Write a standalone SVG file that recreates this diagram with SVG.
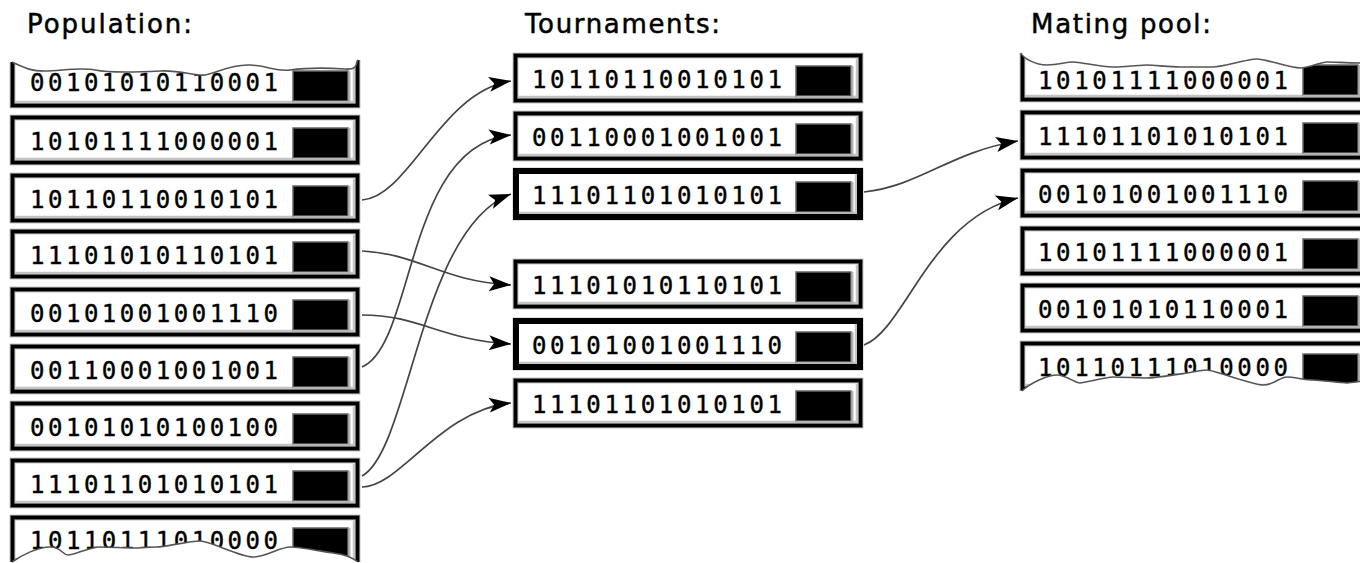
<svg xmlns="http://www.w3.org/2000/svg" xmlns:xlink="http://www.w3.org/1999/xlink" width="1360" height="563" viewBox="0 0 1360 563">
  <style>
    .title { font-family: "DejaVu Sans", "Liberation Sans", sans-serif; font-size: 26px; fill: #000; stroke: #000; stroke-width: 0.5; }
    .bits { font-family: "DejaVu Sans Mono", "Liberation Mono", monospace; font-size: 24px; fill: #000; stroke: #000; stroke-width: 0.4; }
    .halo { fill: #fff; stroke: #8c8c8c; stroke-width: 5.5; }
    .edge { fill: none; stroke: #000; stroke-width: 3.5; }
    .edge-win { fill: none; stroke: #000; stroke-width: 6; }
    .bevel { fill: none; stroke: #c4c4c4; stroke-width: 2.5; }
    .swatch { fill: #000; stroke: #666; stroke-width: 1.5; }
    .swatch-lit { fill: none; stroke: #b4b4b4; stroke-width: 2; }
    .tear { fill: none; stroke: #555; stroke-width: 1.6; }
    .link { fill: none; stroke: #444; stroke-width: 1.7; marker-end: url(#head); }
  </style>
  <defs>
    <marker id="head" markerUnits="userSpaceOnUse" markerWidth="26" markerHeight="18" refX="22" refY="8" orient="auto">
      <path d="M0,0.5 L22,8 L0,15.5 L5,8 Z" fill="#000"/>
    </marker>
    <!-- individual frame: plain chromosome box -->
    <g id="frame">
      <rect class="halo" x="2.5" y="2.5" width="345" height="45"/>
      <path class="bevel" d="M5,44 H344 V6"/>
      <rect class="edge" x="2.5" y="2.5" width="345" height="45"/>
      <rect class="swatch" x="283" y="13" width="55" height="30"/>
      <path class="swatch-lit" d="M283,44 H339.5 V13"/>
    </g>
    <!-- tournament winner: heavier outline -->
    <g id="frame-win">
      <rect class="halo" x="2.5" y="2.5" width="345" height="47"/>
      <path class="bevel" d="M6,45 H343 V6"/>
      <rect class="edge-win" x="3" y="3" width="344" height="46"/>
      <rect class="swatch" x="283" y="14" width="55" height="30"/>
      <path class="swatch-lit" d="M283,45 H339.5 V14"/>
    </g>
    <!-- torn edges for the first and last visible list entries -->
    <clipPath id="tear-pop-top">
      <path d="M-5,60 L-5,4 L2,4 C15,10 20,13 35,13 S70,9 85,12 S130,14 150,13 S185,18 195,17 S220,6 240,7 S265,14 280,12 S320,10 335,11 S345,4 348,2 L356,2 L356,60 Z"/>
    </clipPath>
    <clipPath id="tear-pop-bottom">
      <path d="M-5,-5 L-5,47 L2,47 C12,40 28,32 40,32 S52,40 58,40 S80,32 90,32 S115,33 123,33 S140,32 147,32 S180,26 190,26 S230,42 243,42 S270,32 280,32 S315,37 323,38 S342,42 348,47 L356,47 L356,-5 Z"/>
    </clipPath>
    <clipPath id="tear-pool-top">
      <path d="M-5,60 L-5,1 L1,1 C3,6 15,13 27,13 S45,10 53,10 S80,15 93,15 S120,13 127,13 S150,15 160,15 S185,15 193,15 S228,7 237,7 S270,16 280,16 S300,10 307,10 S330,11 345,11 L360,11 L360,60 Z"/>
    </clipPath>
    <clipPath id="tear-pool-bottom">
      <path d="M-5,-5 L-5,50 L2,50 C10,42 28,34 37,34 S55,42 60,42 S85,36 93,36 S120,37 127,37 S160,33 167,32 S180,29 187,29 S232,44 243,44 S260,36 267,36 S285,39 293,39 S320,42 327,42 L345,40 L360,40 L360,-5 Z"/>
    </clipPath>
  </defs>

  <rect width="1360" height="563" fill="#fff"/>

  <!-- column headings -->
  <text class="title" x="27" y="33" textLength="165" lengthAdjust="spacing">Population:</text>
  <text class="title" x="525" y="33" textLength="195" lengthAdjust="spacing">Tournaments:</text>
  <text class="title" x="1031" y="33" textLength="180" lengthAdjust="spacing">Mating pool:</text>

  <!-- population -->
  <g id="pop-1" transform="translate(10,58)">
    <g clip-path="url(#tear-pop-top)">
      <use xlink:href="#frame"/>
      <text class="bits" x="20" y="33" textLength="248" lengthAdjust="spacing">00101010110001</text>
    </g>
    <path class="tear" d="M2,4 C15,10 20,13 35,13 S70,9 85,12 S130,14 150,13 S185,18 195,17 S220,6 240,7 S265,14 280,12 S320,10 335,11 S345,4 348,2"/>
  </g>
  <g id="pop-2" transform="translate(10,115)">
    <use xlink:href="#frame"/>
    <text class="bits" x="20" y="35" textLength="248" lengthAdjust="spacing">10101111000001</text>
  </g>
  <g id="pop-3" transform="translate(10,173)">
    <use xlink:href="#frame"/>
    <text class="bits" x="20" y="35" textLength="248" lengthAdjust="spacing">10110110010101</text>
  </g>
  <g id="pop-4" transform="translate(10,229)">
    <use xlink:href="#frame"/>
    <text class="bits" x="20" y="35" textLength="248" lengthAdjust="spacing">11101010110101</text>
  </g>
  <g id="pop-5" transform="translate(10,287)">
    <use xlink:href="#frame"/>
    <text class="bits" x="20" y="35" textLength="248" lengthAdjust="spacing">00101001001110</text>
  </g>
  <g id="pop-6" transform="translate(10,344)">
    <use xlink:href="#frame"/>
    <text class="bits" x="20" y="35" textLength="248" lengthAdjust="spacing">00110001001001</text>
  </g>
  <g id="pop-7" transform="translate(10,401)">
    <use xlink:href="#frame"/>
    <text class="bits" x="20" y="35" textLength="248" lengthAdjust="spacing">00101010100100</text>
  </g>
  <g id="pop-8" transform="translate(10,458)">
    <use xlink:href="#frame"/>
    <text class="bits" x="20" y="35" textLength="248" lengthAdjust="spacing">11101101010101</text>
  </g>
  <g id="pop-9" transform="translate(10,515)">
    <g clip-path="url(#tear-pop-bottom)">
      <use xlink:href="#frame"/>
      <text class="bits" x="20" y="34" textLength="248" lengthAdjust="spacing">10110111010000</text>
    </g>
    <path class="tear" d="M2,47 C12,40 28,32 40,32 S52,40 58,40 S80,32 90,32 S115,33 123,33 S140,32 147,32 S180,26 190,26 S230,42 243,42 S270,32 280,32 S315,37 323,38 S342,42 348,47"/>
  </g>

  <!-- tournaments -->
  <g id="tour-1" transform="translate(513,53)">
    <use xlink:href="#frame"/>
    <text class="bits" x="19" y="35" textLength="250" lengthAdjust="spacing">10110110010101</text>
  </g>
  <g id="tour-2" transform="translate(513,111)">
    <use xlink:href="#frame"/>
    <text class="bits" x="19" y="35" textLength="250" lengthAdjust="spacing">00110001001001</text>
  </g>
  <g id="tour-3" transform="translate(513,168)">
    <use xlink:href="#frame-win"/>
    <text class="bits" x="19" y="36" textLength="250" lengthAdjust="spacing">11101101010101</text>
  </g>
  <g id="tour-4" transform="translate(513,259)">
    <use xlink:href="#frame"/>
    <text class="bits" x="19" y="35" textLength="250" lengthAdjust="spacing">11101010110101</text>
  </g>
  <g id="tour-5" transform="translate(513,318)">
    <use xlink:href="#frame-win"/>
    <text class="bits" x="19" y="36" textLength="250" lengthAdjust="spacing">00101001001110</text>
  </g>
  <g id="tour-6" transform="translate(513,378)">
    <use xlink:href="#frame"/>
    <text class="bits" x="19" y="35" textLength="250" lengthAdjust="spacing">11101101010101</text>
  </g>

  <!-- mating pool -->
  <g id="pool-1" transform="translate(1020,52)">
    <g clip-path="url(#tear-pool-top)">
      <use xlink:href="#frame"/>
      <text class="bits" x="18" y="37" textLength="250" lengthAdjust="spacing">10101111000001</text>
    </g>
    <path class="tear" d="M1,1 C3,6 15,13 27,13 S45,10 53,10 S80,15 93,15 S120,13 127,13 S150,15 160,15 S185,15 193,15 S228,7 237,7 S270,16 280,16 S300,10 307,10 S330,11 345,11 L360,11"/>
  </g>
  <g id="pool-2" transform="translate(1020,110)">
    <use xlink:href="#frame"/>
    <text class="bits" x="18" y="35" textLength="250" lengthAdjust="spacing">11101101010101</text>
  </g>
  <g id="pool-3" transform="translate(1020,168)">
    <use xlink:href="#frame"/>
    <text class="bits" x="18" y="35" textLength="250" lengthAdjust="spacing">00101001001110</text>
  </g>
  <g id="pool-4" transform="translate(1020,226)">
    <use xlink:href="#frame"/>
    <text class="bits" x="18" y="35" textLength="250" lengthAdjust="spacing">10101111000001</text>
  </g>
  <g id="pool-5" transform="translate(1020,283)">
    <use xlink:href="#frame"/>
    <text class="bits" x="18" y="35" textLength="250" lengthAdjust="spacing">00101010110001</text>
  </g>
  <g id="pool-6" transform="translate(1020,341)">
    <g clip-path="url(#tear-pool-bottom)">
      <use xlink:href="#frame"/>
      <text class="bits" x="18" y="35" textLength="250" lengthAdjust="spacing">10110111010000</text>
    </g>
    <path class="tear" d="M2,50 C10,42 28,34 37,34 S55,42 60,42 S85,36 93,36 S120,37 127,37 S160,33 167,32 S180,29 187,29 S232,44 243,44 S260,36 267,36 S285,39 293,39 S320,42 327,42 L345,40 L360,40"/>
  </g>

  <!-- selection arrows -->
  <g id="connectors">
    <path class="link" d="M362,200 C410,196 440,92 511,81"/>
    <path class="link" d="M362,367 C415,345 405,145 511,135"/>
    <path class="link" d="M362,476 C410,450 420,228 511,194"/>
    <path class="link" d="M362,251 C420,254 440,281 511,285"/>
    <path class="link" d="M362,315 C420,315 440,340 511,344"/>
    <path class="link" d="M362,487 C400,487 440,410 511,403"/>
    <path class="link" d="M864,192 C920,186 950,152 1018,141"/>
    <path class="link" d="M864,345 C905,330 930,218 1018,198"/>
  </g>
</svg>
